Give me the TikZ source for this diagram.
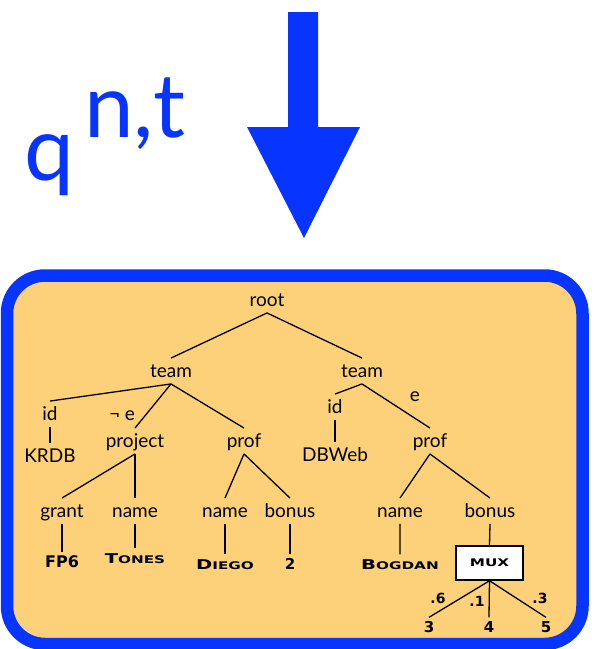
\documentclass[tikz,border=0pt]{standalone}
\usepackage{fontspec}
\setmainfont{Lato}
\newfontfamily\capsfont{DejaVu Sans}[FakeStretch=1.45]
\newfontfamily\numfont{DejaVu Sans}
\definecolor{qblue}{RGB}{8,52,255}
\definecolor{boxorange}{RGB}{253,209,122}
\newcommand\scword[2]{{\capsfont\bfseries\fontsize{13.5}{15}\selectfont #1\fontsize{10.5}{12}\selectfont #2}}
\begin{document}
\begin{tikzpicture}[x=1pt, y=-1pt, line width=1.3pt,
  every node/.style={inner sep=2pt, anchor=base, font=\fontsize{19}{22}\selectfont},
  lbl/.style={text height=16.3pt, text depth=4.3pt},
  leaf/.style={text height=12pt, text depth=0pt, font=\numfont\bfseries\fontsize{15}{17}\selectfont},
  prob/.style={font=\numfont\bfseries\fontsize{14}{16}\selectfont},
  muxbox/.style={draw, fill=white, line width=1.5pt, anchor=center, minimum width=67pt, minimum height=34pt}]
  \useasboundingbox (0,0) rectangle (602,649);
  \fill[qblue] (288,12) -- (318,12) -- (318,127) -- (360,127) -- (304,238) -- (247,127) -- (288,127) -- cycle;
  \node[qblue, inner sep=0pt, font=\fontsize{89}{100}\selectfont] (q) at (49,180) {q};
  \node[qblue, inner sep=0pt, font=\fontsize{89}{100}\selectfont] (nt) at (135,137) {n,t};
  \draw[qblue, fill=boxorange, line width=12.5pt, rounded corners=38pt] (7,275.5) rectangle (582.5,644);
  \node[lbl] (root) at (267,306) {root};
  \node[lbl] (teamL) at (171,377) {team};
  \node[lbl] (teamR) at (362,377) {team};
  \node[lbl] (idL) at (50,420) {id};
  \node (negE) at (122,420) {¬ e};
  \node[lbl] (projL) at (135,447) {project};
  \node[lbl] (profL) at (244,447) {prof};
  \node[lbl] (krdb) at (50,462) {KRDB};
  \node[lbl] (idR) at (335,413) {id};
  \node (posE) at (415,401) {e};
  \node[lbl] (profR) at (430,447) {prof};
  \node[lbl] (dbweb) at (335,461) {DBWeb};
  \node[lbl] (grant) at (62,517) {grant};
  \node[lbl] (nameA) at (135,517) {name};
  \node[lbl] (nameB) at (225,517) {name};
  \node[lbl] (bonusB) at (290,517) {bonus};
  \node[lbl] (nameC) at (400,517) {name};
  \node[lbl] (bonusC) at (490,517) {bonus};
  \node[leaf, font=\numfont\bfseries\fontsize{16}{18}\selectfont] (fp6) at (62,567) {FP6};
  \node[leaf] (tones) at (135,563) {\scword{T}{ONES}};
  \node[leaf] (diego) at (225,569) {\scword{D}{IEGO}};
  \node[leaf] (two) at (290,569) {2};
  \node[leaf] (bogdan) at (400,569) {\scword{B}{OGDAN}};
  \node[muxbox] (mux) at (489.5,563) {\scword{}{MUX}};
  \node[leaf] (three) at (429,632) {3};
  \node[leaf] (four) at (489,632) {4};
  \node[leaf] (five) at (546,632) {5};
  \node[prob] (pSix) at (438,603) {.6};
  \node[prob] (pOne) at (477,606) {.1};
  \node[prob] (pThree) at (540,603) {.3};
  \draw (root.south) edge (teamL.north) edge (teamR.north);
  \draw (teamL.south) edge (idL.north) edge (projL.north) edge (profL.north);
  \draw (teamR.south) edge (idR.north) edge (profR.north);
  \draw (idL.south) -- (krdb.north) (idR.south) -- (dbweb.north);
  \draw (projL.south) edge (grant.north) edge (nameA.north);
  \draw (profL.south) edge (nameB.north) edge (bonusB.north);
  \draw (profR.south) edge (nameC.north) edge (bonusC.north);
  \draw (grant.south) -- (fp6.north) (nameA.south) -- (tones.north) (nameB.south) -- (diego.north) (bonusB.south) -- (two.north);
  \draw (nameC.south) -- (bogdan.north) (bonusC.south) -- (mux.north);
  \draw (mux.south) edge (three.north) edge (four.north) edge (five.north);
\end{tikzpicture}
\end{document}
